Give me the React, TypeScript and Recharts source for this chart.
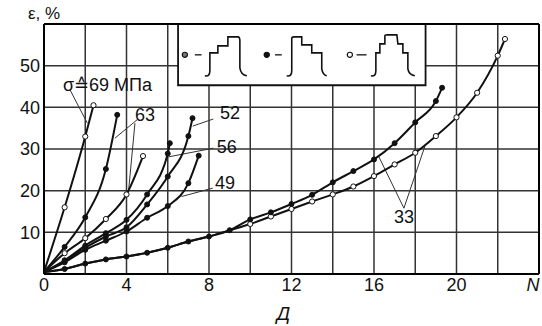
import {
  LineChart,
  Line,
  XAxis,
  YAxis,
  CartesianGrid,
  ReferenceLine,
  ReferenceArea,
  ReferenceDot,
  Label,
} from "recharts";

// N (cycles) and ε (%), one pair of arrays per curve
const n69 = [0, 1, 2, 2.4];
const e69 = [0.5, 16, 33, 40.5];

const n63f = [0, 1, 2, 3, 3.55];
const e63f = [0.5, 6.5, 13.6, 25.2, 38.2];

const n63o = [0, 1, 2, 3, 4, 4.8];
const e63o = [0.5, 5, 8.6, 13.2, 19.1, 28.3];

const n56 = [0, 1, 2, 3, 4, 5, 6, 6.1];
const e56 = [0.5, 3.3, 6.8, 9.8, 13, 19.1, 28.9, 31.4];

const n52 = [0, 1, 2, 3, 4, 5, 6, 7, 7.2];
const e52 = [0.5, 3, 6.3, 9, 11.2, 16.7, 23.4, 33.1, 37.4];

const n49 = [0, 1, 2, 3, 4, 5, 6, 7, 7.5];
const e49 = [0.5, 2.8, 5.8, 8, 10.2, 13.5, 16.3, 21.8, 28.4];

const n33f = [0, 1, 2, 3, 4, 5, 6, 7, 8, 9, 10, 11, 12, 13, 14, 15, 16, 17, 18, 19, 19.3];
const e33f = [0.5, 1.2, 2.5, 3.5, 4.2, 5.1, 6.3, 7.8, 9, 10.5, 13.1, 14.8, 16.8, 19, 22, 24.7, 27.5, 31.4, 36.4, 41.5, 44.7];

const n33o = [0, 1, 2, 3, 4, 5, 6, 7, 8, 9, 10, 11, 12, 13, 14, 15, 16, 17, 18, 19, 20, 21, 22, 22.35];
const e33o = [0.5, 1.2, 2.5, 3.5, 4.2, 5.1, 6.3, 7.8, 9, 10.5, 12, 13.8, 15.6, 17.4, 19.1, 21, 23.5, 26.3, 29.1, 33.1, 37.6, 43.5, 52.4, 56.4];

const xTicks = [0, 2, 4, 6, 8, 10, 12, 14, 16, 18, 20, 22, 24];
const yTicks = [0, 10, 20, 30, 40, 50, 60];

const zip = (n: number[], e: number[]) => n.map((v, i) => ({ n: v, e: e[i] }));

const curves = [
  { key: "33o", data: zip(n33o, e33o), open: true, from: 10 },
  { key: "33f", data: zip(n33f, e33f), open: false, from: 1 },
  { key: "69", data: zip(n69, e69), open: true, from: 1 },
  { key: "63f", data: zip(n63f, e63f), open: false, from: 1 },
  { key: "63o", data: zip(n63o, e63o), open: true, from: 1 },
  { key: "56", data: zip(n56, e56), open: false, from: 1 },
  { key: "52", data: zip(n52, e52), open: false, from: 1 },
  { key: "49", data: zip(n49, e49), open: false, from: 1 },
];

const FONT = '"Liberation Sans", Arial, sans-serif';

// stress labels and their leader lines, in chart units
const labels = [
  { text: "σ≙69 МПа", n: 0.92, e: 45.4 },
  { text: "63", n: 4.41, e: 38.2 },
  { text: "52", n: 8.53, e: 38.6 },
  { text: "56", n: 8.37, e: 30.5 },
  { text: "49", n: 8.29, e: 21.8 },
  { text: "33", n: 16.97, e: 13.8 },
];

const leaders: [number, number, number, number][] = [
  [1.26, 44.2, 2.1, 36.2],
  [4.51, 37.0, 3.44, 32.6],
  [4.41, 36.2, 4.09, 19.4],
  [8.21, 37.2, 7.21, 35.5],
  [8.21, 30.2, 6.03, 28.1],
  [8.18, 20.6, 6.67, 18.6],
  [17.45, 15.8, 16.24, 28.1],
  [17.45, 15.8, 18.47, 30.7],
];

// legend: marker kind + loading waveform (drawn relative to the marker)
const legendItems = [
  {
    n: 6.83,
    kind: "half",
    dash: [10, 16.7],
    wave: "M 20 21 Q 25 22 25 16 L 25 -2 L 33 -2 L 33 -9 L 43 -9 L 43 -18 L 53 -18 Q 55 -18 55 -14 L 55 13 Q 56 20 62 21",
  },
  {
    n: 10.8,
    kind: "filled",
    dash: [8.3, 15],
    wave: "M 20 21 Q 25 22 25 16 L 25 -16 Q 25 -18 27 -18 L 35 -18 L 35 -10 L 45 -10 L 45 -2 L 55 -2 L 55 14 Q 56 20 60 21",
  },
  {
    n: 14.83,
    kind: "open",
    dash: [6.7, 16.7],
    wave: "M 21 21 Q 26 22 26 16 L 26 -2 L 30 -2 L 30 -11 L 35 -11 L 35 -19 Q 35 -20 37 -20 L 47 -20 L 48 -11 L 53 -11 L 53 -2 L 58 -2 L 58 14 Q 59 20 65 21",
  },
];

const XTick = (p: any) => {
  const v = p.payload.value;
  if (v % 4 !== 0) return <g />;
  if (v === 24)
    return (
      <text x={p.x - 6} y={p.y} dy="0.71em" textAnchor="middle" fontSize={18} fontStyle="italic" fill="#111" fontFamily={FONT}>
        N
      </text>
    );
  return (
    <text x={p.x} y={p.y} dy="0.71em" textAnchor="middle" fontSize={18} fill="#111" fontFamily={FONT}>
      {v}
    </text>
  );
};

const YTick = (p: any) => {
  const v = p.payload.value;
  if (v === 0 || v === 60) return <g />;
  return (
    <text x={p.x} y={p.y} dy="0.355em" textAnchor="end" fontSize={18} fill="#111" fontFamily={FONT}>
      {v}
    </text>
  );
};

const makeDot = (open: boolean, from: number) => (p: any) => {
  if (p.index < from) return <g key={p.key ?? p.index} />;
  return (
    <circle
      key={p.key ?? p.index}
      cx={p.cx}
      cy={p.cy}
      r={open ? 2.6 : 2.5}
      fill={open ? "#fff" : "#111"}
      stroke="#111"
      strokeWidth={1}
    />
  );
};

export default function App() {
  return (
    <div style={{ position: "absolute", left: 0, top: 0, width: 542, height: 326, background: "#fff" }}>
      <LineChart width={542} height={326} margin={{ top: 24, right: 3, left: 0, bottom: 0 }}>
        <CartesianGrid stroke="#333" strokeWidth={1.5} />
        <XAxis
          type="number"
          dataKey="n"
          domain={[0, 24]}
          ticks={xTicks}
          interval={0}
          tick={<XTick />}
          tickLine={false}
          tickSize={0}
          tickMargin={4}
          height={52}
          axisLine={{ stroke: "#000", strokeWidth: 2 }}
          allowDataOverflow
        >
          <Label
            value="Д"
            position="insideBottom"
            offset={6}
            dx={-8}
            style={{ fontSize: 19, fontStyle: "italic", fill: "#111", fontFamily: FONT }}
          />
        </XAxis>
        <YAxis
          type="number"
          dataKey="e"
          domain={[0, 60]}
          ticks={yTicks}
          interval={0}
          tick={<YTick />}
          tickLine={false}
          tickSize={0}
          tickMargin={4}
          width={44}
          axisLine={{ stroke: "#000", strokeWidth: 2 }}
          allowDataOverflow
        >
          <Label
            content={(p: any) => (
              <text x={(p.viewBox?.x ?? 0) + 28} y={(p.viewBox?.y ?? 24) - 5} fontSize={17} fill="#111" fontFamily={FONT}>
                ε, %
              </text>
            )}
          />
        </YAxis>
        <ReferenceLine y={60} stroke="#000" strokeWidth={2} />
        <ReferenceLine x={24} stroke="#000" strokeWidth={2} />

        <ReferenceArea x1={6.5} x2={18.5} y1={45.3} y2={60} fill="#fff" fillOpacity={1} stroke="#111" strokeWidth={1.8} />
        {legendItems.map((it) => (
          <ReferenceDot
            key={it.n}
            x={it.n}
            y={52.6}
            r={0}
            shape={(p: any) => (
              <g transform={`translate(${p.cx},${p.cy})`}>
                <circle
                  r={2.6}
                  fill={it.kind === "filled" ? "#111" : it.kind === "half" ? "#777" : "#fff"}
                  stroke="#111"
                  strokeWidth={1.2}
                />
                <line x1={it.dash[0]} x2={it.dash[1]} y1={0} y2={0} stroke="#111" strokeWidth={1.3} />
                <path d={it.wave} fill="none" stroke="#111" strokeWidth={1.6} />
              </g>
            )}
          />
        ))}

        {leaders.map((l, i) => (
          <ReferenceLine
            key={i}
            segment={[
              { x: l[0], y: l[1] },
              { x: l[2], y: l[3] },
            ]}
            stroke="#333"
            strokeWidth={1}
          />
        ))}

        {curves.map((c) => (
          <Line
            key={c.key}
            data={c.data}
            dataKey="e"
            type="monotone"
            stroke="#111"
            strokeWidth={2}
            dot={makeDot(c.open, c.from)}
            activeDot={false}
            isAnimationActive={false}
          />
        ))}

        {labels.map((l) => (
          <ReferenceDot
            key={l.text}
            x={l.n}
            y={l.e}
            r={0}
            shape={(p: any) => (
              <text x={p.cx} y={p.cy} dy="0.35em" fontSize={18} fill="#111" fontFamily={FONT}>
                {l.text}
              </text>
            )}
          />
        ))}
      </LineChart>
    </div>
  );
}
